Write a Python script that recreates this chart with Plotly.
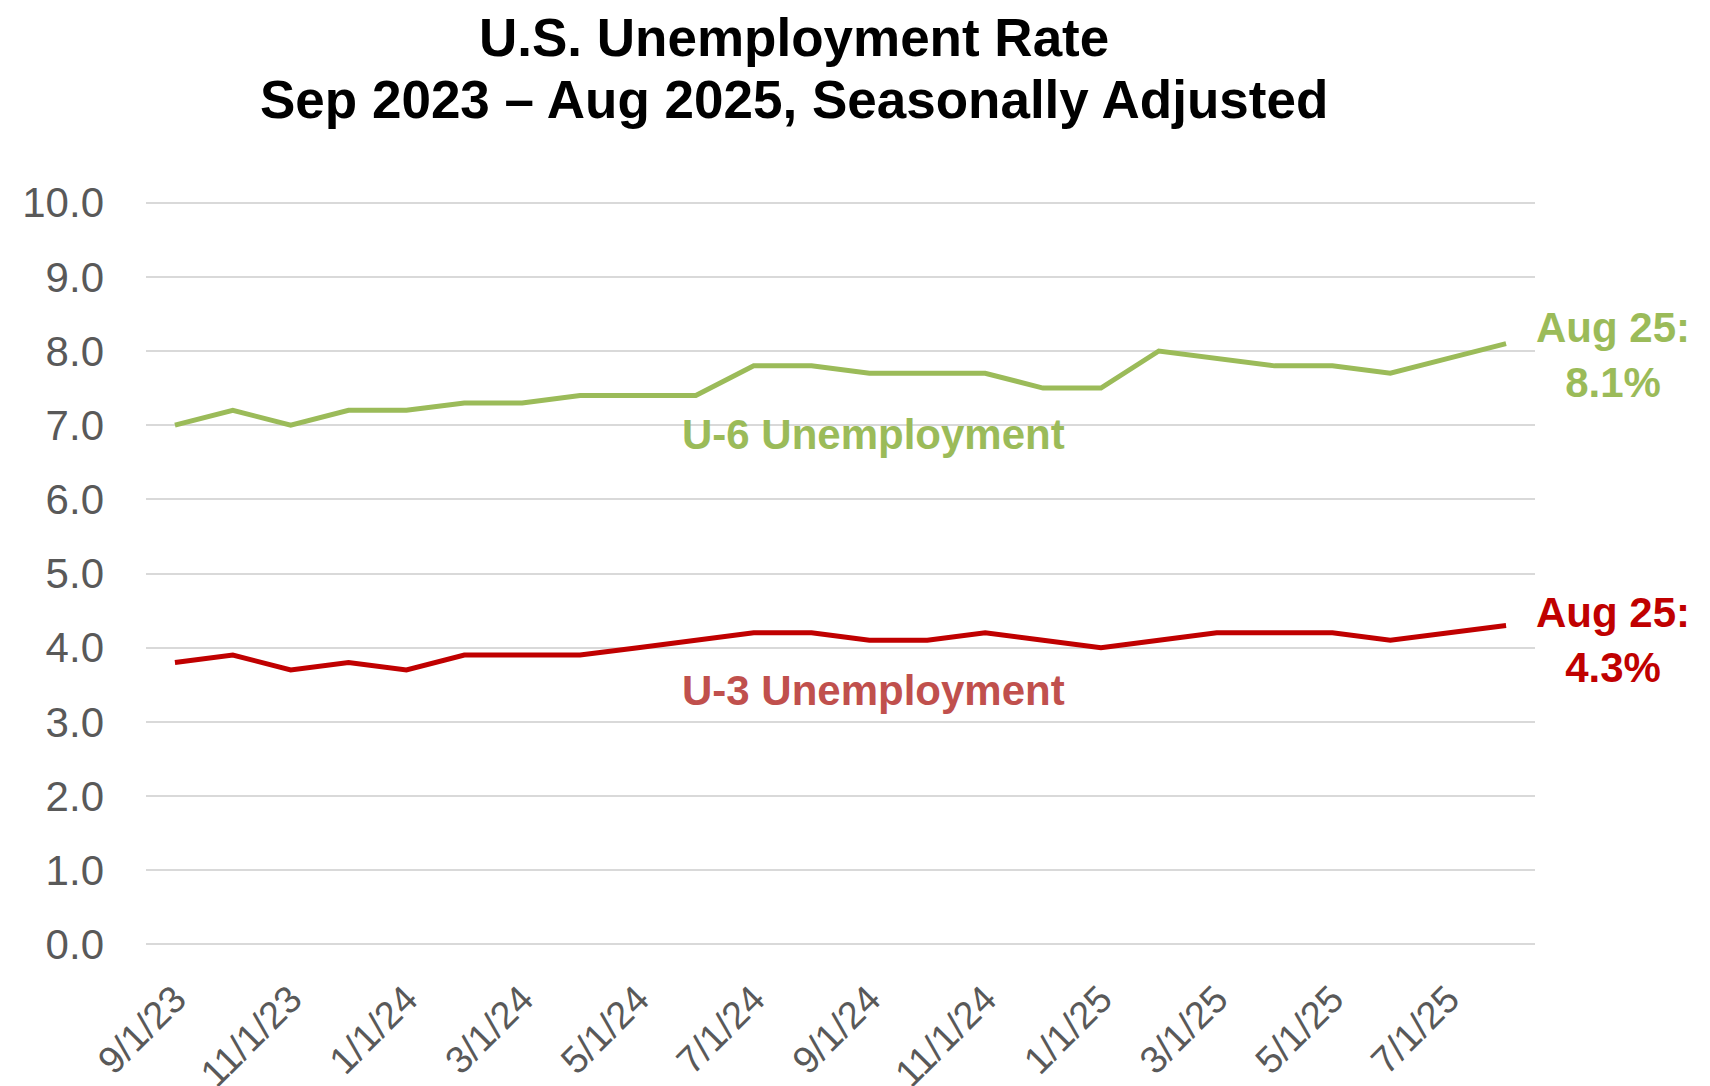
import plotly.graph_objects as go

months = ["9/1/23", "10/1/23", "11/1/23", "12/1/23", "1/1/24", "2/1/24", "3/1/24", "4/1/24",
          "5/1/24", "6/1/24", "7/1/24", "8/1/24", "9/1/24", "10/1/24", "11/1/24", "12/1/24",
          "1/1/25", "2/1/25", "3/1/25", "4/1/25", "5/1/25", "6/1/25", "7/1/25", "8/1/25"]
u6 = [7.0, 7.2, 7.0, 7.2, 7.2, 7.3, 7.3, 7.4, 7.4, 7.4, 7.8, 7.8,
      7.7, 7.7, 7.7, 7.5, 7.5, 8.0, 7.9, 7.8, 7.8, 7.7, 7.9, 8.1]
u3 = [3.8, 3.9, 3.7, 3.8, 3.7, 3.9, 3.9, 3.9, 4.0, 4.1, 4.2, 4.2,
      4.1, 4.1, 4.2, 4.1, 4.0, 4.1, 4.2, 4.2, 4.2, 4.1, 4.2, 4.3]
tick_labels = months[::2]
y_ticks = [0, 1, 2, 3, 4, 5, 6, 7, 8, 9, 10]
title_lines = ["U.S. Unemployment Rate", "Sep 2023 – Aug 2025, Seasonally Adjusted"]

GREEN = "#9BBB59"
RED = "#C00000"
RED_LIGHT = "#C0504D"
TICK_FONT = "Liberation Sans, Arial, sans-serif"
BOLD_FONT = "Liberation Sans, Arial, sans-serif"

T, B, L, R = 191, 146, 138, 183
PLOT_H = 1086 - T - B

fig = go.Figure()
fig.add_trace(go.Scatter(x=months, y=u6, mode="lines", name="U-6",
                         line=dict(color=GREEN, width=5), showlegend=False, hoverinfo="skip"))
fig.add_trace(go.Scatter(x=months, y=u3, mode="lines", name="U-3",
                         line=dict(color=RED, width=5), showlegend=False, hoverinfo="skip"))

fig.update_layout(
    width=1710, height=1086,
    margin=dict(l=L, r=R, t=T, b=B),
    plot_bgcolor="white", paper_bgcolor="white",
    xaxis=dict(type="category", categoryorder="array", categoryarray=months,
               range=[-0.5, len(months) - 0.5], automargin=False,
               tickmode="array", tickvals=tick_labels, ticktext=tick_labels,
               tickangle=-45, showgrid=False, zeroline=False, showline=False,
               tickfont=dict(family=TICK_FONT, size=38, color="#595959"),
               ticks="", ticklabelstandoff=20),
    yaxis=dict(range=[-0.05, 10.05], tickmode="array", tickvals=y_ticks, automargin=False,
               tickformat=".1f", showgrid=True, gridcolor="#D9D9D9", gridwidth=2,
               zeroline=True, zerolinecolor="#D9D9D9", zerolinewidth=2,
               showline=False, ticks="", ticklabelstandoff=41,
               tickfont=dict(family=TICK_FONT, size=42, color="#595959")),
)

# title line centres in pixels from top: 29 and 92
fig.add_annotation(text="<b>%s</b>" % title_lines[0],
                   xref="paper", yref="paper", x=0.4667, y=1 + (T - 29) / PLOT_H,
                   xanchor="center", yanchor="middle",
                   showarrow=False, font=dict(family=BOLD_FONT, size=53, color="black"))
fig.add_annotation(text="<b>%s</b>" % title_lines[1],
                   xref="paper", yref="paper", x=0.4667, y=1 + (T - 92) / PLOT_H,
                   xanchor="center", yanchor="middle",
                   showarrow=False, font=dict(family=BOLD_FONT, size=53, color="black"))
fig.add_annotation(text="<b>U-6 Unemployment</b>", xref="paper", yref="y", x=0.524, y=6.87,
                   xanchor="center", yanchor="middle", showarrow=False,
                   font=dict(family=BOLD_FONT, size=42, color=GREEN))
fig.add_annotation(text="<b>U-3 Unemployment</b>", xref="paper", yref="y", x=0.524, y=3.42,
                   xanchor="center", yanchor="middle", showarrow=False,
                   font=dict(family=BOLD_FONT, size=42, color=RED_LIGHT))
fig.add_annotation(text="<b>Aug 25:<br>%.1f%%</b>" % u6[-1], xref="paper", yref="y", x=1.056, y=7.94,
                   xanchor="center", yanchor="middle", showarrow=False,
                   font=dict(family=BOLD_FONT, size=42, color=GREEN))
fig.add_annotation(text="<b>Aug 25:<br>%.1f%%</b>" % u3[-1], xref="paper", yref="y", x=1.056, y=4.11,
                   xanchor="center", yanchor="middle", showarrow=False,
                   font=dict(family=BOLD_FONT, size=42, color=RED))

fig.write_html("out.html")
